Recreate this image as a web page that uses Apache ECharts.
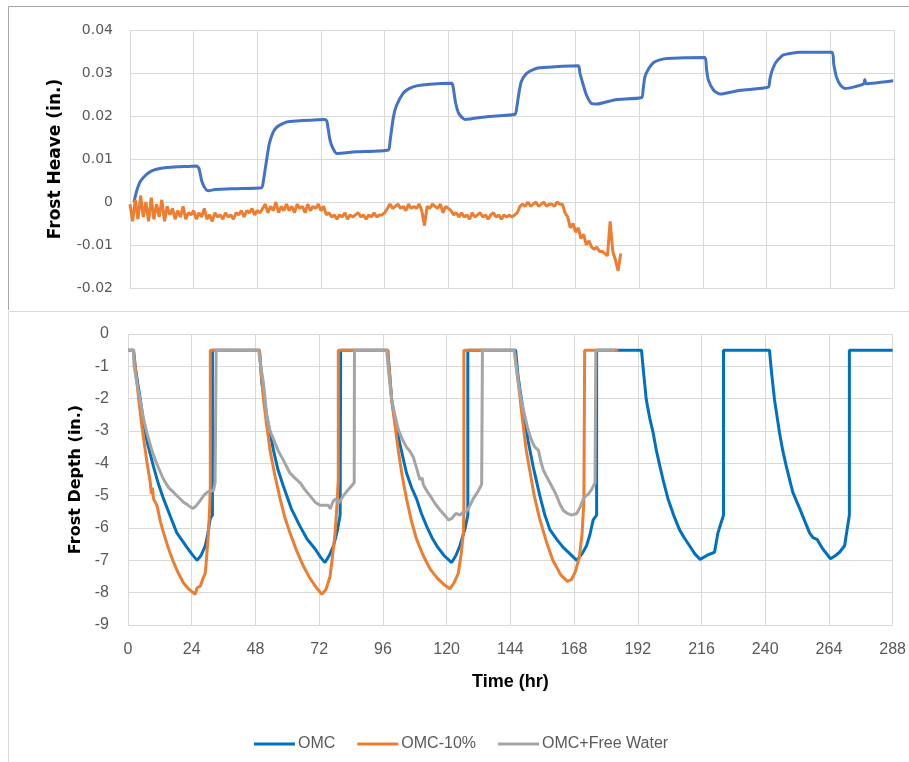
<!DOCTYPE html>
<html>
<head>
<meta charset="utf-8">
<script src="https://cdn.jsdelivr.net/npm/echarts@6/dist/echarts.min.js"></script>
<style>
html,body{margin:0;padding:0;background:#fff;}
#main{width:909px;height:762px;}
</style>
</head>
<body>
<div id="main"></div>
<script>
// frost heave, OMC: [hr, in.]
var heaveOMC = [
[1.5,0],[2.5,0.0025],[3.8,0.0047],[5.5,0.006],[7.5,0.007],[10,0.0076],[13.8,0.008],[19,0.0082],[25.1,0.0084],
[26,0.0078],[27,0.005],[28,0.0035],[29.5,0.0026],[32,0.0029],[40,0.0031],[49.6,0.0033],
[50.3,0.005],[51.5,0.0098],[52.5,0.0135],[54,0.0163],[55.5,0.0175],[57.8,0.0183],[60,0.0187],[64,0.0189],[73.5,0.0192],
[74.2,0.0188],[75.4,0.0144],[76.5,0.0125],[77.9,0.0113],[85,0.0117],[97.4,0.0121],
[98,0.014],[99.3,0.0198],[100.5,0.0225],[103,0.0253],[105,0.0263],[108,0.027],[113,0.0274],[121.3,0.0276],
[121.8,0.0268],[122.7,0.0232],[124,0.0205],[126.3,0.0192],[135,0.0199],[145.1,0.0204],
[145.8,0.022],[146.4,0.0245],[147.5,0.028],[149.5,0.0299],[152,0.0308],[154.6,0.0312],[169,0.0317],
[169.6,0.03],[170.3,0.0284],[172,0.025],[174,0.0229],[176,0.0228],[183,0.0238],[192.9,0.0243],
[193.4,0.026],[194.1,0.0291],[195.5,0.031],[197.3,0.0324],[200,0.0331],[202.3,0.0334],[216.7,0.0336],
[217.3,0.031],[218,0.0284],[220,0.026],[222.4,0.0251],[230,0.026],[240.6,0.0267],
[241.2,0.0285],[241.9,0.0303],[243.5,0.0325],[246.3,0.0342],[252.6,0.0348],[264.6,0.0348],
[265.3,0.032],[266.3,0.0291],[267.8,0.0272],[269.5,0.0264],[276.5,0.0274],[277,0.0285],[277.5,0.0275],[287.7,0.0282]
];

// frost heave, OMC-10%: one reading per hour from hr 0, in thousandths of an inch
var heaveOMC10milli = [
-0.5,-4.5,0.5,-4,1.5,-3.5,0,-4.5,1,-4,-0.5,-3.5,0.5,-4.5,-1,-3,-1.5,-4,-2,-3.5,
-1,-4,-2.5,-3,-2,-4,-2.5,-3.5,-1.5,-4,-3,-4.5,-2.5,-3.5,-3,-4,-2.5,-3.5,-3,-4,
-2.5,-3,-2,-3.5,-2,-2.5,-1.5,-3,-2,-2.5,-1.5,-0.5,-2.5,-1,-2,0,-2.5,-1,-2,-0.5,
-2,-1,-2.5,-0.5,-1.5,-1,-2.5,-0.5,-2,-1,-1.5,-0.5,-2,-1,-3,-2.5,-3.5,-3,-4,-3,
-3.5,-2.5,-4,-3,-3.5,-3,-2.5,-3.5,-3,-4,-3,-3.5,-2.5,-3.5,-3,-3,-2.5,-1.5,-0.5,-1.5,
-1,-0.5,-1.5,-1,-2,-0.5,-1.5,-1,-1.5,-0.5,-2,-5.5,-1,-1.5,-0.5,-1,-1.5,-0.5,-2.5,-1,
-1.5,-2,-3,-2.5,-3.5,-2.5,-3.5,-3,-4,-2.5,-3.5,-3,-2.5,-3.5,-3,-4,-3,-2.5,-3.5,-3,
-4,-3,-3.5,-3,-3.5,-3,-2.5,-1,-0.5,-1,0,-1,-0.5,0,-1,-0.5,0,-1,-0.5,-0.5,
-1,0,-0.5,-0.5,-2.5,-3.5,-6,-5,-7,-6,-8.5,-7.5,-10,-9,-10.5,-11,-10.5,-11.5,-11.5,-12,
-12.5,-4.5,-11.5,-13.5,-16,-12
];

// frost depth: [hr, in.]
var depthOMC = [
[0,-0.5],[2.1,-0.5],[2.7,-1.0],[3.6,-1.5],[4.6,-2.0],[5.8,-2.7],[7.1,-3.3],[9.6,-4.1],[11.5,-4.65],[13.4,-5.1],[16,-5.65],[18.4,-6.15],[20.5,-6.4],[22.2,-6.6],[24,-6.8],[26,-7.0],[27.5,-6.85],[29.1,-6.55],[30,-6.2],[31,-5.7],[31.8,-5.6],[31.8,-0.5],
[49.5,-0.5],[50.4,-1.5],[52.3,-2.55],[54.8,-3.6],[56.5,-4.2],[58.5,-4.7],[61.5,-5.4],[64.8,-5.95],[67.5,-6.35],[70.5,-6.65],[72.5,-6.9],[74.2,-7.07],[75.8,-6.85],[77.4,-6.55],[78.8,-6.1],[79.9,-5.6],[80.1,-0.5],
[97.8,-0.5],[98.6,-1.3],[99.3,-2.03],[100.8,-2.8],[102.4,-3.4],[104.9,-4.3],[106.8,-4.75],[108.7,-5.1],[110.5,-5.55],[112.5,-5.95],[114.5,-6.3],[116.3,-6.55],[119,-6.85],[121.9,-7.07],[123.5,-6.85],[125,-6.55],[127,-6.0],[128,-5.6],[128,-0.5],
[146,-0.5],[146.9,-1.3],[148.2,-2.03],[149.5,-2.7],[150.7,-3.3],[152.6,-4.1],[155.1,-5.0],[157,-5.6],[158.9,-6.05],[161.5,-6.35],[163.9,-6.6],[166.5,-6.8],[169,-7.0],[171,-6.8],[172.7,-6.55],[174,-6.2],[175.2,-5.75],[176.5,-5.6],[176.5,-0.5],
[193.4,-0.5],[194.2,-1.2],[195.2,-2.03],[196.5,-2.6],[197.8,-3.06],[199,-3.6],[200.3,-4.08],[201.8,-4.6],[203.4,-5.1],[205.5,-5.6],[207.7,-6.05],[209.5,-6.3],[211.5,-6.55],[213.5,-6.8],[215.5,-6.97],[218,-6.85],[220.9,-6.75],[222.2,-6.15],[224.3,-5.6],[224.3,-0.5],
[241.6,-0.5],[242.4,-1.2],[243.5,-2.03],[245.4,-3.06],[246.6,-3.6],[247.9,-4.08],[250.4,-4.9],[253,-5.4],[256.7,-6.15],[258,-6.3],[259.5,-6.35],[261.7,-6.65],[264.6,-6.95],[266.5,-6.85],[268,-6.75],[269.9,-6.55],[271.7,-5.6],[271.7,-0.5],[288,-0.5]
];
var depthOMC10 = [
[0,-0.5],[2,-0.5],[3,-1.2],[4,-2.0],[5,-2.7],[5.9,-3.25],[7.2,-4.0],[8.4,-4.6],[8.8,-4.95],[9.2,-4.75],[9.6,-5.1],[10.9,-5.3],[12.2,-5.8],[13.4,-6.15],[15.3,-6.65],[17.2,-7.07],[19,-7.4],[20.9,-7.7],[23,-7.9],[25.3,-8.05],[26,-7.85],[27.2,-7.8],[28.3,-7.55],[29.1,-7.4],[29.6,-6.9],[30.3,-6.15],[30.8,-5.3],[31,-4.7],[31,-0.5],
[49.5,-0.5],[50.2,-1.2],[51,-2.0],[52.2,-2.8],[53.5,-3.6],[55.4,-4.4],[57.3,-5.1],[59,-5.65],[61,-6.15],[63.5,-6.7],[66,-7.17],[68.5,-7.55],[71,-7.85],[73,-8.05],[74.6,-7.9],[76.1,-7.5],[77,-6.9],[78,-6.15],[78.7,-5.3],[79.2,-4.5],[79.2,-0.5],
[97.8,-0.5],[98.5,-1.2],[99.3,-2.03],[100.5,-2.8],[101.8,-3.6],[103.3,-4.4],[104.9,-5.1],[106.8,-5.8],[108.7,-6.35],[111.2,-6.85],[113.8,-7.27],[116.5,-7.55],[119,-7.75],[121.2,-7.88],[122.8,-7.7],[124.4,-7.4],[125.5,-6.8],[126.3,-6.15],[126.5,-5.5],[126.5,-0.5],
[145.5,-0.5],[147,-1.5],[148.5,-2.6],[150,-3.6],[151.5,-4.3],[153,-5.0],[155,-5.7],[157.5,-6.4],[160,-7.0],[163,-7.45],[165.5,-7.65],[167,-7.6],[168.5,-7.35],[170,-6.9],[171,-6.2],[171.7,-5.2],[172,-0.5],[184.7,-0.5]
];
var depthFreeWater = [
[0,-0.5],[2,-0.5],[2.3,-1.0],[3.3,-1.5],[4.5,-2.0],[5.8,-2.6],[7.1,-3.06],[9,-3.6],[11,-4.05],[13.4,-4.5],[15.3,-4.75],[17.2,-4.9],[19,-5.05],[20.9,-5.2],[22.7,-5.3],[24.4,-5.4],[25.8,-5.3],[27.2,-5.15],[28.5,-5.0],[29.7,-4.9],[31,-4.85],[32.2,-4.85],[32.8,-4.6],[33.2,-0.5],
[49.2,-0.5],[50,-1.0],[51,-1.5],[52.3,-2.55],[53.5,-3.0],[54.8,-3.25],[56.5,-3.6],[58.5,-3.9],[61,-4.3],[62.8,-4.45],[64.8,-4.6],[66.5,-4.8],[68.5,-5.0],[70.5,-5.2],[72.3,-5.3],[74,-5.3],[75.4,-5.3],[76.2,-5.4],[77.4,-5.15],[78.3,-5.1],[79.2,-5.25],[80,-5.15],[81.1,-5.0],[82.6,-4.85],[84.2,-4.7],[85.2,-4.6],[85.3,-0.5],
[97.4,-0.5],[98.2,-1.2],[99.3,-2.03],[100.5,-2.5],[101.8,-2.95],[103.3,-3.25],[104.9,-3.5],[106,-3.6],[107.4,-3.8],[108.7,-4.15],[109.9,-4.5],[110.8,-4.45],[111.2,-4.65],[112.5,-4.85],[113.8,-5.0],[115.7,-5.25],[117.6,-5.45],[119.2,-5.6],[120.8,-5.75],[122,-5.7],[123.5,-5.55],[125,-5.6],[126.3,-5.5],[127.5,-5.5],[128.8,-5.3],[130,-5.1],[131.6,-4.9],[133.2,-4.65],[133.5,-0.5],
[145.4,-0.5],[146.2,-1.0],[147,-1.5],[148.2,-2.1],[149.5,-2.55],[150.5,-2.9],[151.4,-3.15],[152.3,-3.35],[153.3,-3.5],[154.6,-3.6],[155.5,-3.95],[156.4,-4.2],[157.6,-4.4],[158.9,-4.6],[160.2,-4.8],[161.4,-5.0],[162.6,-5.25],[163.9,-5.45],[165.5,-5.55],[167.1,-5.6],[169,-5.55],[170.3,-5.35],[171.5,-5.1],[172.5,-5.0],[173.4,-4.95],[174.7,-4.8],[175.9,-4.6],[176.2,-0.5],[183.4,-0.5]
];
var legendNames = ['OMC', 'OMC-10%', 'OMC+Free Water'];

var heaveOMC10 = heaveOMC10milli.map(function(v, i){ return [i, v / 1000]; });

var sans = "'Liberation Sans',Arial,sans-serif";
var gridLine = {show:true, lineStyle:{color:'#d9d9d9', width:1}};

var myChart = echarts.init(document.getElementById('main'));
var option = {
    animation: false,
    backgroundColor: '#fff',
    grid: [
        {left:130, top:30, width:764, height:258},
        {left:128, top:334, width:765, height:291}
    ],
    xAxis: [
        {gridIndex:0, type:'value', min:0, max:288, interval:24,
         axisLine:{show:false}, axisTick:{show:false}, axisLabel:{show:false}, splitLine:gridLine},
        {gridIndex:1, type:'value', min:0, max:288, interval:24,
         axisLine:{show:false}, axisTick:{show:false}, splitLine:gridLine,
         axisLabel:{color:'#595959', fontFamily:sans, fontSize:16, margin:17},
         name:'Time (hr)', nameLocation:'middle', nameGap:48,
         nameTextStyle:{color:'#000', fontFamily:sans, fontSize:18, fontWeight:'bold'}}
    ],
    yAxis: [
        {gridIndex:0, type:'value', min:-0.02, max:0.04, interval:0.01,
         axisLine:{show:false}, axisTick:{show:false}, splitLine:gridLine,
         axisLabel:{color:'#595959', fontFamily:'DejaVu Sans', fontSize:14, margin:17},
         name:'Frost Heave (in.)', nameLocation:'middle', nameGap:66,
         nameTextStyle:{color:'#000', fontFamily:'DejaVu Sans', fontSize:17, fontWeight:'bold'}},
        {gridIndex:1, type:'value', min:-9, max:0, interval:1,
         axisLine:{show:false}, axisTick:{show:false}, splitLine:gridLine,
         axisLabel:{color:'#595959', fontFamily:sans, fontSize:16, margin:19},
         name:'Frost Depth (in.)', nameLocation:'middle', nameGap:42,
         nameTextStyle:{color:'#000', fontFamily:'DejaVu Sans', fontSize:16, fontWeight:'bold'}}
    ],
    legend: {
        data: legendNames,
        left: 249, top: 731,
        icon: 'rect', itemWidth: 41, itemHeight: 3, itemGap: 22,
        textStyle: {color:'#595959', fontFamily:sans, fontSize:16, padding:[0,0,0,-2]}
    },
    graphic: [
        {type:'polyline', silent:true, shape:{points:[[8.5,310],[8.5,6.5],[909,6.5]]},
         style:{stroke:'#a6a6a6', lineWidth:1, fill:null}},
        {type:'polyline', silent:true, shape:{points:[[8.5,762],[8.5,311.5],[909,311.5]]},
         style:{stroke:'#d9d9d9', lineWidth:1, fill:null}}
    ],
    series: [
        {name:'OMC heave', type:'line', xAxisIndex:0, yAxisIndex:0, data:heaveOMC,
         showSymbol:false, smooth:0.2, lineStyle:{color:'#4472c4', width:3}, itemStyle:{color:'#4472c4'}},
        {name:'OMC-10% heave', type:'line', xAxisIndex:0, yAxisIndex:0, data:heaveOMC10,
         showSymbol:false, lineStyle:{color:'#ed7d31', width:3}, itemStyle:{color:'#ed7d31'}},
        {name:legendNames[0], type:'line', xAxisIndex:1, yAxisIndex:1, data:depthOMC,
         showSymbol:false, lineStyle:{color:'#0070c0', width:3}, itemStyle:{color:'#0070c0'}},
        {name:legendNames[1], type:'line', xAxisIndex:1, yAxisIndex:1, data:depthOMC10,
         showSymbol:false, lineStyle:{color:'#ed7d31', width:3}, itemStyle:{color:'#ed7d31'}},
        {name:legendNames[2], type:'line', xAxisIndex:1, yAxisIndex:1, data:depthFreeWater,
         showSymbol:false, lineStyle:{color:'#a5a5a5', width:3}, itemStyle:{color:'#a5a5a5'}}
    ]
};
myChart.setOption(option);
</script>
</body>
</html>
